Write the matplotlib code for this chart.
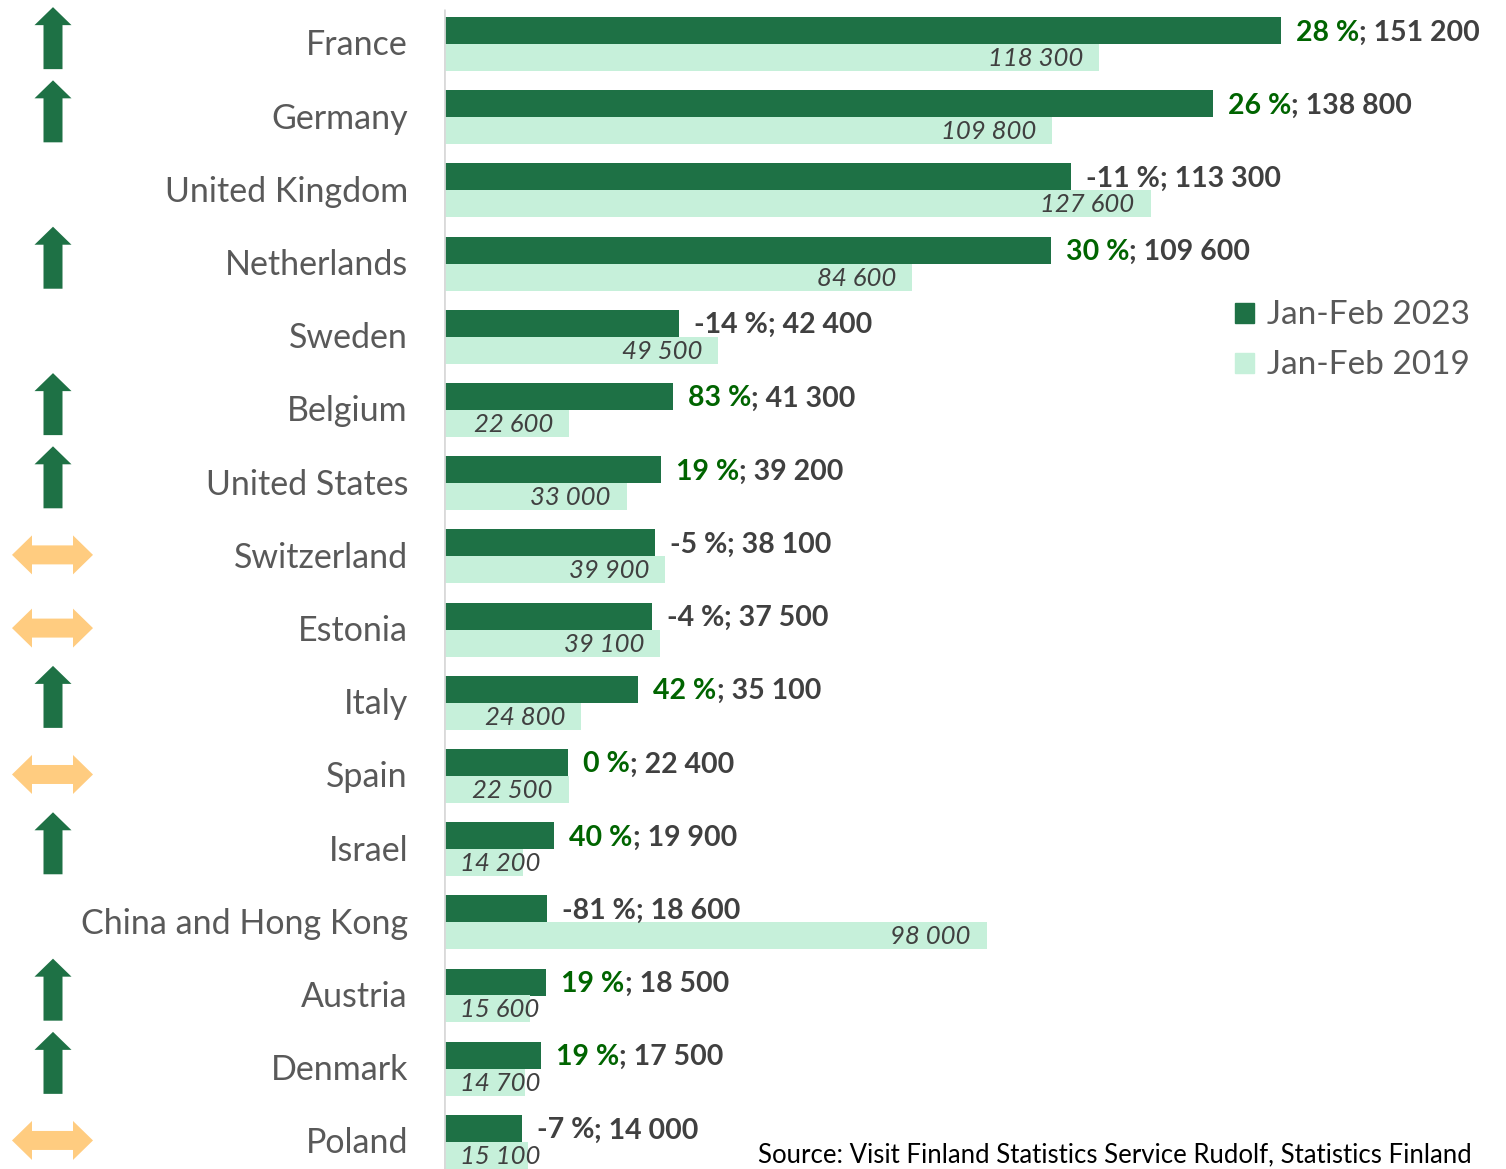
import matplotlib
matplotlib.use("Agg")
import matplotlib.pyplot as plt
from matplotlib.patches import Polygon, Patch

plt.rcParams['font.family'] = ['Lato', 'DejaVu Sans']

countries = ["France", "Germany", "United Kingdom", "Netherlands", "Sweden", "Belgium",
             "United States", "Switzerland", "Estonia", "Italy", "Spain", "Israel",
             "China and Hong Kong", "Austria", "Denmark", "Poland"]
v2023 = [151200, 138800, 113300, 109600, 42400, 41300, 39200, 38100,
         37500, 35100, 22400, 19900, 18600, 18500, 17500, 14000]
v2019 = [118300, 109800, 127600, 84600, 49500, 22600, 33000, 39900,
         39100, 24800, 22500, 14200, 98000, 15600, 14700, 15100]
pct = [28, 26, -11, 30, -14, 83, 19, -5, -4, 42, 0, 40, -81, 19, 19, -7]
trend = ["up", "up", "", "up", "", "up", "up", "both",
         "both", "up", "both", "up", "", "up", "up", "both"]

DARK = "#1E7145"
LIGHT = "#C6F0DA"
GREEN_TXT = "#006400"
GRAY_TXT = "#404040"
LABEL_TXT = "#595959"
ORANGE = "#FFCC80"

W, H = 1506, 1169
ROW = 73.2  # pixels per row
fig = plt.figure(figsize=(W / 100, H / 100), dpi=100)
renderer = fig.canvas.get_renderer()

x0 = 444
ylim = (15.37, -0.601)
ax = fig.add_axes([x0 / W, 0, 1 - x0 / W, 1])
ax.set_xlim(0, 191800)
ax.set_ylim(*ylim)
ax.axis("off")

bh = 27 / ROW
off = 0.184
ys = list(range(len(countries)))
ax.barh([y - off for y in ys], v2023, height=bh, color=DARK, zorder=2)
ax.barh([y + off for y in ys], v2019, height=bh, color=LIGHT, zorder=2)
ax.vlines(0, -0.48, ylim[0], color="#D9D9D9", lw=2, zorder=3)

def fmt(v):
    return f"{v:,}".replace(",", " ")

for y, a, b, p in zip(ys, v2023, v2019, pct):
    c = GREEN_TXT if p >= 0 else GRAY_TXT
    t1 = ax.annotate(f"{p} %", xy=(a, y - off), xytext=(15, -2), textcoords="offset pixels",
                     ha="left", va="center", fontsize=20.5, fontweight="bold", color=c)
    ax.annotate(f"; {fmt(a)}", xycoords=t1, xy=(1, 0), ha="left", va="bottom",
                fontsize=20.5, fontweight="bold", color=GRAY_TXT)
    t2 = ax.annotate(fmt(b), xy=(b, y + off), xytext=(-16, -1), textcoords="offset pixels",
                     ha="right", va="center", fontsize=18.5, fontstyle="italic", color=GRAY_TXT)
    # label does not fit inside the bar: Excel pushes it to the base
    left = t2.get_window_extent(renderer).x0
    if left < x0 + 16:
        t2.xy = (0, y + off)
        t2.xyann = (16, -1)
        t2.set_ha("left")

# left panel: country names and trend arrows
axl = fig.add_axes([0, 0, x0 / W, 1])
axl.set_xlim(0, x0)
axl.set_ylim(*ylim)
axl.axis("off")

def up_arrow(cx, cy):
    hw, sw, hh, tot = 18.5, 9.5, 18, 62
    top = cy - tot / 2 / ROW
    hb = top + hh / ROW
    bot = cy + tot / 2 / ROW
    pts = [(cx, top), (cx + hw, hb), (cx + sw, hb), (cx + sw, bot),
           (cx - sw, bot), (cx - sw, hb), (cx - hw, hb)]
    return Polygon(pts, closed=True, color=DARK, lw=0)

def both_arrow(cx, cy):
    hl, half, hh, sh = 20, 40.5, 19.5 / ROW, 9.5 / ROW
    l, r = cx - half, cx + half
    pts = [(l, cy), (l + hl, cy - hh), (l + hl, cy - sh), (r - hl, cy - sh), (r - hl, cy - hh),
           (r, cy), (r - hl, cy + hh), (r - hl, cy + sh), (l + hl, cy + sh), (l + hl, cy + hh)]
    return Polygon(pts, closed=True, color=ORANGE, lw=0)

for y, name, t in zip(ys, countries, trend):
    axl.text(408, y + 0.02, name, ha="right", va="center", fontsize=24.5, color=LABEL_TXT)
    if t == "up":
        axl.add_patch(up_arrow(53, y - 0.08))
    elif t == "both":
        axl.add_patch(both_arrow(52.5, y - 0.02))

handles = [Patch(color=DARK, label="Jan-Feb 2023"), Patch(color=LIGHT, label="Jan-Feb 2019")]
fig.legend(handles=handles, loc="upper left", bbox_to_anchor=(1222 / W, 1 - 287 / H),
           frameon=False, fontsize=24, labelcolor=LABEL_TXT, handlelength=0.55,
           handleheight=0.55, handletextpad=0.4, labelspacing=0.6, borderaxespad=0)

fig.text(1472 / W, 1 - 1155 / H, "Source: Visit Finland Statistics Service Rudolf, Statistics Finland",
         ha="right", va="center", fontsize=18.5, color="#000000")

fig.savefig("out.png", dpi=100)
